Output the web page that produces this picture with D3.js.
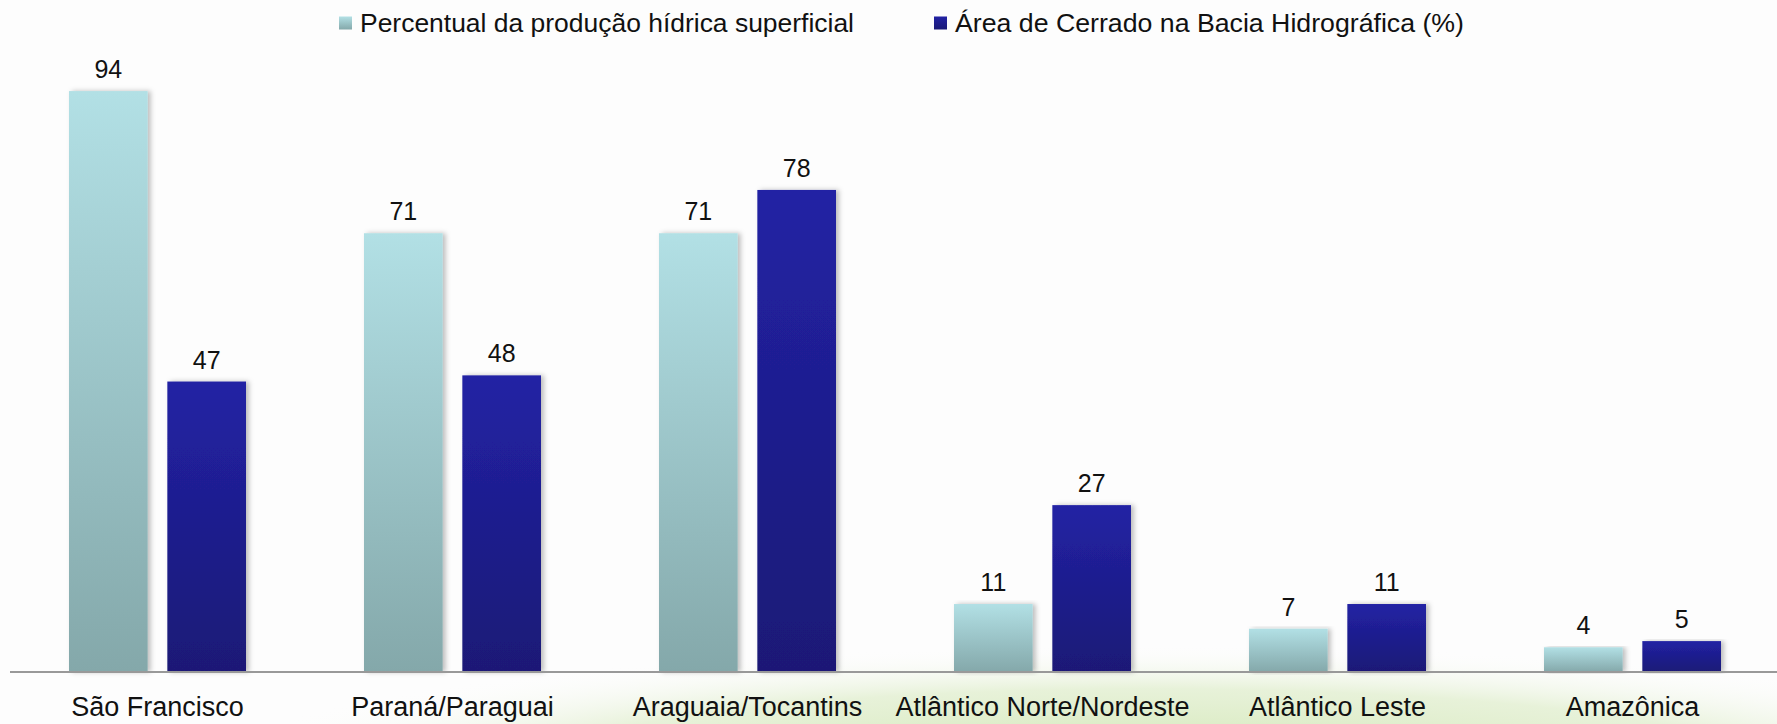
<!DOCTYPE html>
<html>
<head>
<meta charset="utf-8">
<script src="https://cdn.jsdelivr.net/npm/d3@7"></script>
<style>
  body { margin: 0; background: #fdfdfd; }
  text { font-family: "Liberation Sans", Arial, sans-serif; fill: #111; }
</style>
</head>
<body>
<div id="chart"></div>
<script>
const svgWidth = 1777;
const svgHeight = 724;

const categories = ["São Francisco", "Paraná/Paraguai", "Araguaia/Tocantins",
    "Atlântico Norte/Nordeste", "Atlântico Leste", "Amazônica"];
const seriesNames = ["Percentual da produção hídrica superficial", "Área de Cerrado na Bacia Hidrográfica (%)"];
const producao = [94, 71, 71, 11, 7, 4];
const cerrado = [47, 48, 78, 27, 11, 5];

const svg = d3.select("#chart").append("svg")
    .attr("width", svgWidth)
    .attr("height", svgHeight);

const defs = svg.append("defs");

// bar gradients, top to bottom
const gradLight = defs.append("linearGradient").attr("id", "gLight")
    .attr("x1", 0).attr("y1", 0).attr("x2", 0).attr("y2", 1);
gradLight.append("stop").attr("offset", "0%").attr("stop-color", "#b2e0e5");
gradLight.append("stop").attr("offset", "100%").attr("stop-color", "#84a8aa");

const gradDark = defs.append("linearGradient").attr("id", "gDark")
    .attr("x1", 0).attr("y1", 0).attr("x2", 0).attr("y2", 1);
gradDark.append("stop").attr("offset", "0%").attr("stop-color", "#2222a4");
gradDark.append("stop").attr("offset", "100%").attr("stop-color", "#1a1976");

// soft background swoosh at bottom
const gradBg = defs.append("radialGradient").attr("id", "gBg")
    .attr("cx", "50%").attr("cy", "50%").attr("r", "50%");
gradBg.append("stop").attr("offset", "0%").attr("stop-color", "#cfe5b0").attr("stop-opacity", 1);
gradBg.append("stop").attr("offset", "65%").attr("stop-color", "#e2efd0").attr("stop-opacity", 0.8);
gradBg.append("stop").attr("offset", "100%").attr("stop-color", "#fdfdfd").attr("stop-opacity", 0);

const shadow = defs.append("filter").attr("id", "shadow")
    .attr("x", "-10%").attr("y", "-5%").attr("width", "130%").attr("height", "110%");
shadow.append("feDropShadow").attr("dx", 3).attr("dy", 0).attr("stdDeviation", 2.5)
    .attr("flood-color", "#000").attr("flood-opacity", 0.25);

svg.append("ellipse")
    .attr("cx", 1150).attr("cy", 770)
    .attr("rx", 950).attr("ry", 125)
    .attr("fill", "url(#gBg)");

// scales
const x0 = d3.scaleBand()
    .domain(categories)
    .range([10, 1780])
    .paddingInner(0.4)
    .paddingOuter(0.2);

const x1 = d3.scaleBand()
    .domain([0, 1])
    .range([0, x0.bandwidth()])
    .paddingInner(0.2);

const yScale = d3.scaleLinear()
    .domain([0, 100])
    .range([672, 54]);

const rows = categories.map((c, i) => ({ category: c, values: [producao[i], cerrado[i]] }));
const fills = ["url(#gLight)", "url(#gDark)"];

const groups = svg.selectAll(".group")
    .data(rows)
    .enter()
    .append("g")
    .attr("class", "group")
    .attr("transform", d => `translate(${x0(d.category)}, 0)`);

groups.selectAll("rect")
    .data(d => d.values.map((v, s) => ({ s: s, value: v })))
    .enter()
    .append("rect")
    .attr("x", d => x1(d.s))
    .attr("y", d => yScale(d.value))
    .attr("width", x1.bandwidth())
    .attr("height", d => yScale(0) - yScale(d.value))
    .attr("fill", d => fills[d.s])
    .attr("filter", "url(#shadow)");

// value labels
groups.selectAll(".val")
    .data(d => d.values.map((v, s) => ({ s: s, value: v })))
    .enter()
    .append("text")
    .attr("class", "val")
    .attr("x", d => x1(d.s) + x1.bandwidth() / 2)
    .attr("y", d => yScale(d.value) - 13)
    .attr("text-anchor", "middle")
    .style("font-size", "25px")
    .text(d => d.value);

// x axis
const xAxis = svg.append("g")
    .attr("transform", `translate(0, ${yScale(0)})`)
    .call(d3.axisBottom(x0).tickSize(0).tickPadding(25));

xAxis.select(".domain").attr("stroke", "#999").attr("stroke-width", 2)
    .attr("d", `M10,0H1777`);
xAxis.selectAll(".tick text")
    .style("font-size", "27px")
    .style("font-family", '"Liberation Sans", Arial, sans-serif')
    .attr("fill", "#111")
    .attr("dy", "0.7em");

// legend
const legendX = [339, 934];
const legendLen = [494, 509];
const legend = svg.selectAll(".legend")
    .data(seriesNames)
    .enter()
    .append("g")
    .attr("class", "legend")
    .attr("transform", (d, i) => `translate(${legendX[i]}, 23)`);

legend.append("rect")
    .attr("x", 0).attr("y", -6.5)
    .attr("width", 13).attr("height", 13)
    .attr("fill", (d, i) => fills[i]);

legend.append("text")
    .attr("x", 21)
    .attr("y", 0)
    .attr("dy", "0.35em")
    .attr("textLength", (d, i) => legendLen[i])
    .attr("lengthAdjust", "spacingAndGlyphs")
    .style("font-size", "26.5px")
    .text(d => d);
</script>
</body>
</html>
